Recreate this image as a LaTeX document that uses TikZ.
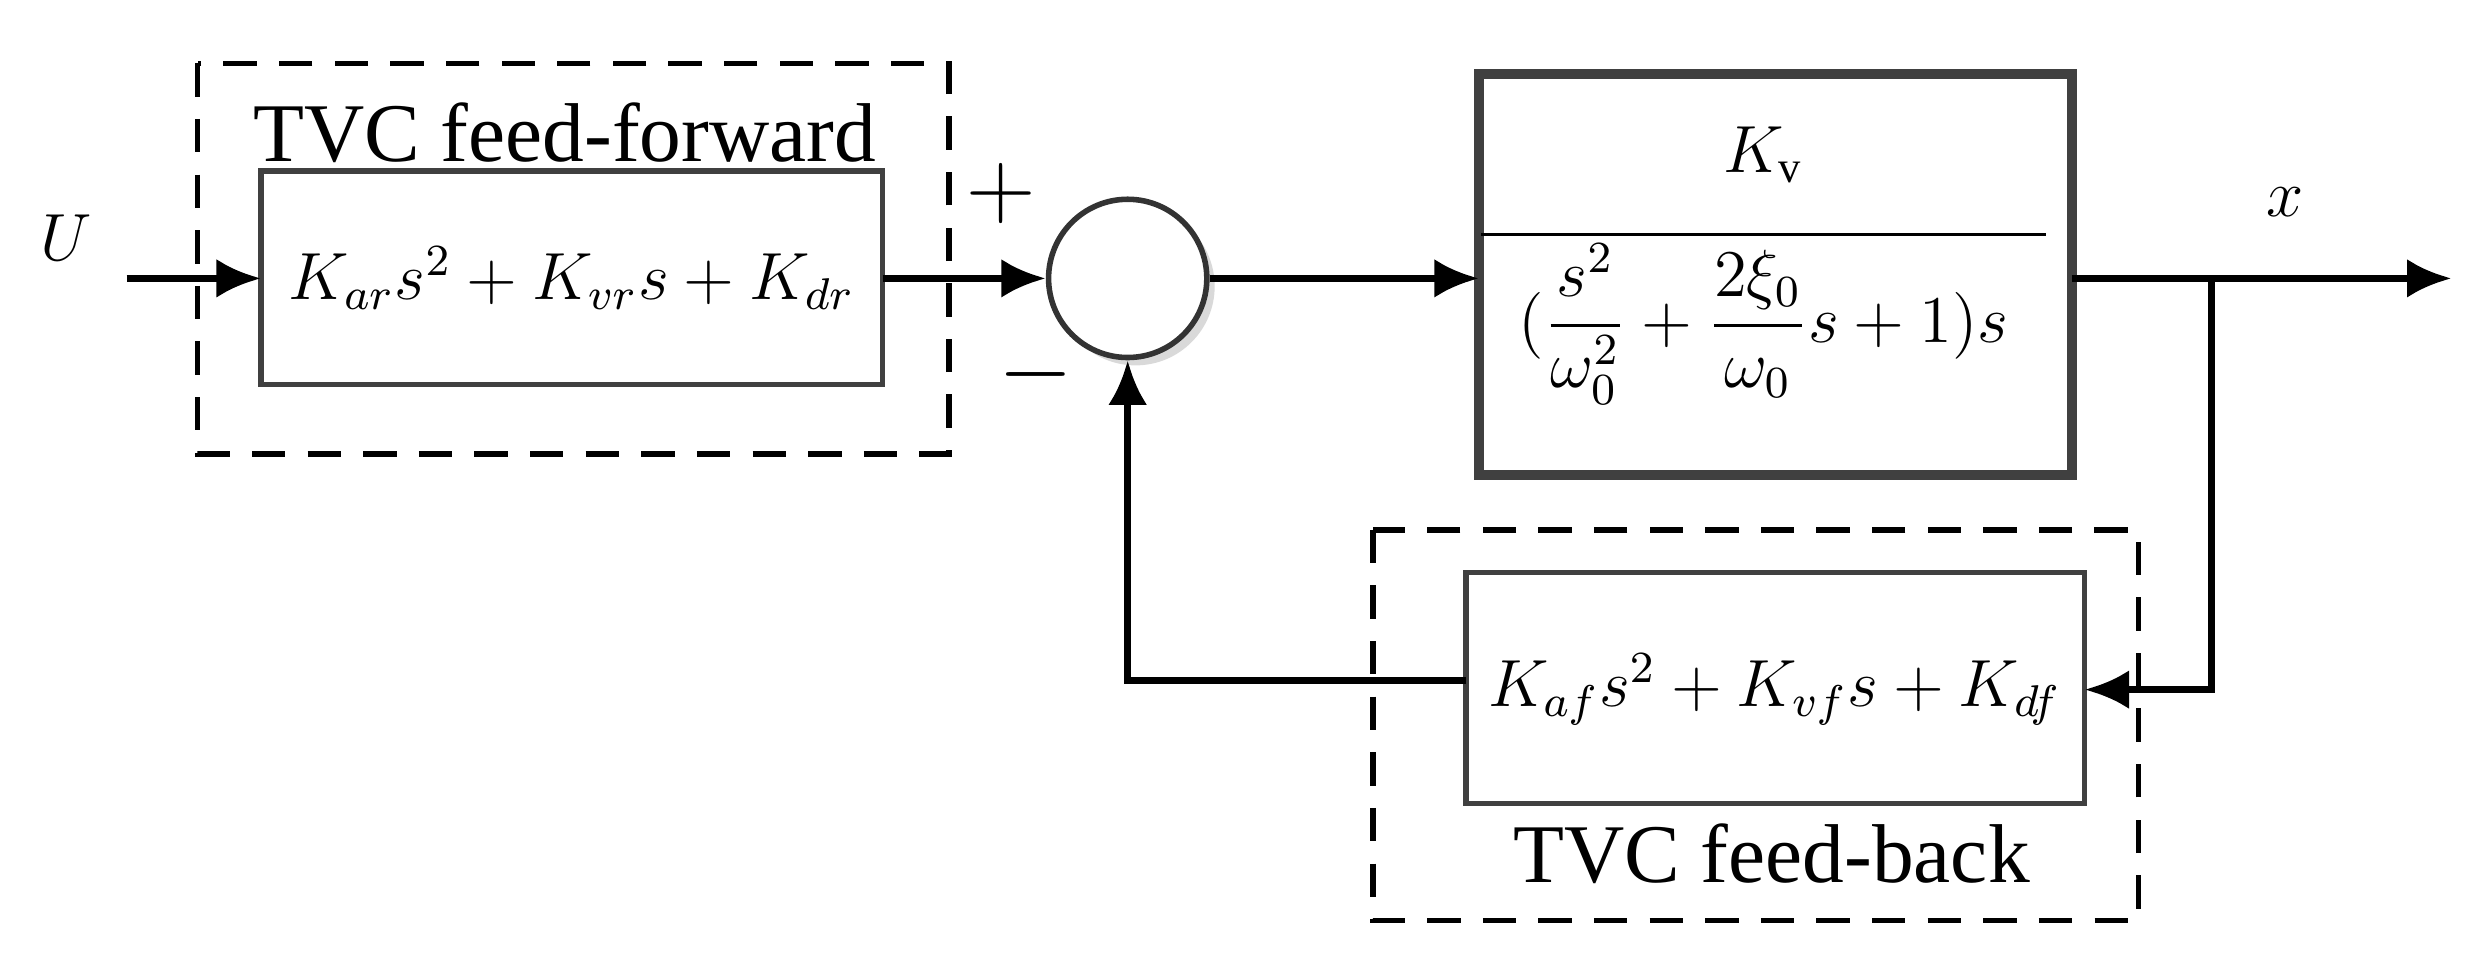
\documentclass[tikz,border=0pt]{standalone}
\usepackage{amsmath}
\usepackage{fontspec}
\setmainfont{Liberation Serif}
\usetikzlibrary{arrows.meta}
\begin{document}
\begin{tikzpicture}[x=0.01cm,y=-0.01cm,
  blk/.style={draw=black!75,line width=1pt},
  grp/.style={draw,line width=1pt,dash pattern=on 6pt off 4pt},
  sig/.style={line width=1.3pt,-{Latex[length=8pt,width=7pt]}},
  lbl/.style={font=\fontsize{15}{18}\selectfont},
  mth/.style={font=\fontsize{12}{15}\selectfont},
  sgn/.style={font=\fontsize{18}{20}\selectfont}]
\useasboundingbox (0,0) rectangle (1568,614);
% feed-forward group
\draw[grp] (125,40) rectangle (600,287);
\draw[blk] (165,108) rectangle (558,243);
\node[mth] (ff) at (361.5,176) {$K_{ar}s^2+K_{vr}s+K_{dr}$};
\node[lbl] (fft) at (357,84) {TVC feed-forward};
\coordinate (ffl) at (165,176);
\coordinate (ffr) at (558,176);
% input
\node[mth] (u) at (42,150) {$U$};
\coordinate (uin) at (80,176);
\draw[sig] (uin) -- (ffl);
% summing junction
\fill[black!15] (718,181) circle (50);
\node[draw=black!80,circle,fill=white,line width=1pt,minimum size=1cm,inner sep=0pt] (sum) at (713,176) {};
\node[sgn] (plus) at (633,122) {$+$};
\node[sgn] (minus) at (655,237) {$-$};
\draw[sig] (ffr) -- (sum.west);
% plant
\draw[line width=1.8pt,draw=black!75] (935,47) rectangle (1310,300);
\node[mth] (plant) at (1115,168) {$\dfrac{\raisebox{6pt}{$K_{\mathrm{v}}$}}{\;\;(\dfrac{s^2}{\omega_0^2}+\dfrac{2\xi_0}{\omega_0}s+1)s\;\;}$};
\coordinate (pl) at (935,176);
\coordinate (pr) at (1310,176);
\draw[sig] (sum.east) -- (pl);
% output
\coordinate (br) at (1398,176);
\coordinate (out) at (1550,176);
\node[mth] (x) at (1445,128) {$x$};
\draw[sig] (pr) -- (out);
% feedback group
\draw[grp] (868,335) rectangle (1352,582);
\draw[blk] (927,362) rectangle (1318,508);
\node[mth] (fb) at (1122,436) {$K_{af}s^2+K_{vf}s+K_{df}$};
\node[lbl] (fbt) at (1120,540) {TVC feed-back};
\coordinate (fbr) at (1318,436);
\coordinate (fbl) at (927,430);
\coordinate (bd) at (1398,436);
\draw[sig] (br) -- (bd) -- (fbr);
\coordinate (corner) at (713,430);
\draw[sig] (fbl) -- (corner) -- (sum.south);
\end{tikzpicture}
\end{document}
